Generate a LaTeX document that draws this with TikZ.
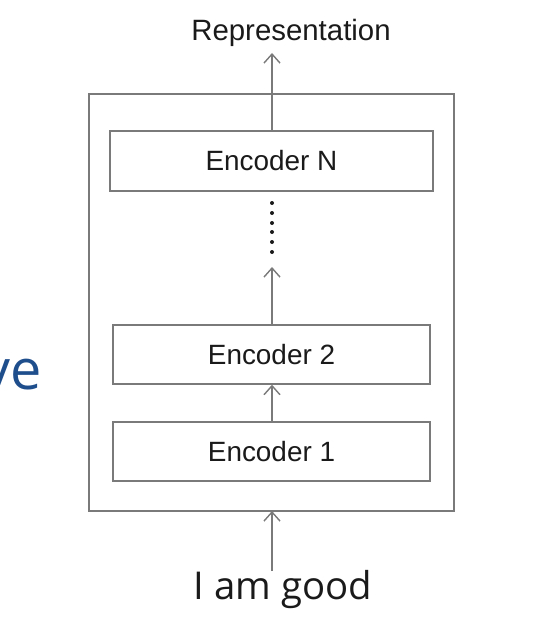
\documentclass[tikz,border=0pt]{standalone}
\usepackage{fontspec}
\usepackage{xcolor}
\usetikzlibrary{arrows.meta}
\newfontfamily\labelFont{Liberation Sans}
\newfontfamily\slideFont{Open Sans}
\definecolor{boxColor}{HTML}{7A7A7A}
\definecolor{textColor}{HTML}{1A1A1A}
\definecolor{slideBlue}{HTML}{1F4E8C}
\def\textRep{Representation}
\def\textIn{I am good}

\tikzset{
  encbox/.style={draw=boxColor, line width=1.4bp, rectangle, inner sep=0pt,
    minimum width=317bp, minimum height=59bp, text=textColor,
    font=\labelFont\fontsize{28}{32}\selectfont},
  arr/.style={draw=boxColor, line width=1.4bp, -{Straight Barb[length=9bp, width=16bp]}},
}

\begin{document}
\begin{tikzpicture}[x=1bp,y=-1bp]
\useasboundingbox (0,0) rectangle (548,622);

% outer frame
\begin{scope}
\draw[draw=boxColor, line width=1.4bp] (89,94) rectangle (454,511);
\coordinate (frameTop) at (272,94);
\coordinate (frameBot) at (272,511);
\end{scope}

% encoder layer
\begin{scope}
\node[encbox, minimum width=323bp, minimum height=60bp] (encN) at (271.5,161) {Encoder N};
\node[encbox] (enc2) at (271.5,354.5) {Encoder 2};
\node[encbox] (enc1) at (271.5,451.5) {Encoder 1};
\end{scope}

% link layer
\begin{scope}
\coordinate (repTip) at (272,53);
\coordinate (dotTip) at (272,267);
\coordinate (inStart) at (272,571);
\draw[arr] (encN.north -| repTip) -- (repTip);
\draw[arr] (enc2.north -| dotTip) -- (dotTip);
\draw[arr] (enc1.north -| dotTip) -- (enc2.south -| dotTip);
\draw[arr] (inStart) -- (frameBot);
\foreach \y in {203,213,223,232,242,252}
  \fill[textColor] (272,\y) circle (2bp);
\end{scope}

% text layer
\begin{scope}
\node[anchor=base, inner sep=0pt, text=textColor,
  font=\labelFont\fontsize{29.5}{34}\selectfont] (rep) at (291,41) {\textRep};
\node[anchor=base, inner sep=0pt, text=textColor,
  font=\slideFont\fontsize{38.5}{46}\selectfont] (inp) at (283,599) {\textIn};
\node[anchor=base east, inner sep=0pt, text=slideBlue,
  font=\slideFont\fontsize{56}{64}\selectfont] (cut) at (42,389) {ve};
\end{scope}

\end{tikzpicture}
\end{document}
